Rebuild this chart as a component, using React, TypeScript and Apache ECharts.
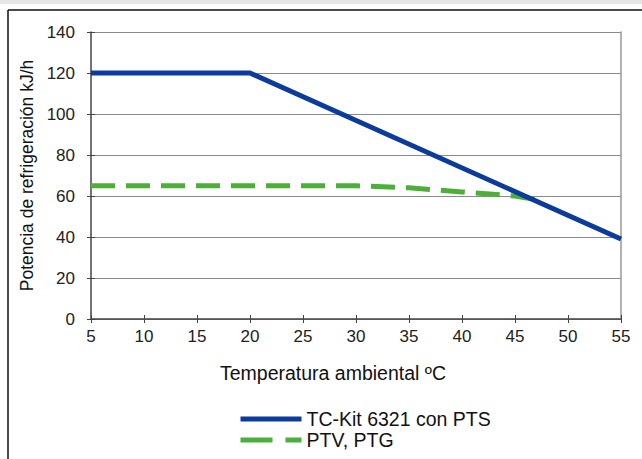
import React, { useEffect, useRef } from "react";
import * as echarts from "echarts";

const tempTicks = [5, 10, 15, 20, 25, 30, 35, 40, 45, 50, 55];
const tcKitX = [5, 20, 55];
const tcKitY = [120, 120, 39];
const ptvX = [5, 30, 35, 40, 45, 47.3];
const ptvY = [65, 65, 64, 62, 60, 58];
const seriesNames = ["TC-Kit 6321 con PTS", "PTV, PTG"];

export default function App() {
  const ref = useRef<HTMLDivElement>(null);
  useEffect(() => {
    const chart = echarts.init(ref.current!, null, { renderer: "svg" });
    const font = "Liberation Sans, Arial, sans-serif";
    const blue = "#0c3b9e";
    const green = "#4caf3a";
    const baseX = {
      type: "value",
      min: tempTicks[0],
      max: tempTicks[tempTicks.length - 1],
      interval: 5,
      position: "bottom",
    };
    const baseY = { type: "value", min: 0, max: 140, interval: 20 };
    chart.setOption({
      animation: false,
      backgroundColor: "#ffffff",
      grid: { left: 91, right: 21, top: 32, bottom: 140 },
      graphic: [
        { type: "rect", shape: { x: 0, y: 0, width: 642, height: 4 }, style: { fill: "#e6e6e6" } },
        { type: "line", shape: { x1: 8, y1: 10, x2: 642, y2: 10 }, style: { stroke: "#111", lineWidth: 1.5 } },
        { type: "line", shape: { x1: 8, y1: 10, x2: 8, y2: 459 }, style: { stroke: "#111", lineWidth: 1.5 } },
      ],
      xAxis: [
        {
          ...baseX,
          name: "Temperatura ambiental ºC",
          nameLocation: "middle",
          nameGap: 44,
          nameTextStyle: { fontFamily: font, fontSize: 19.5, color: "#111", padding: [0, 46, 0, 0] },
          axisLine: { show: true, lineStyle: { color: "#444", width: 1.5 } },
          axisTick: { show: true, length: 4, lineStyle: { color: "#444" } },
          axisLabel: { fontFamily: font, fontSize: 17, color: "#222", margin: 9 },
          splitLine: { show: false },
        },
        {
          ...baseX,
          axisLine: { show: false },
          axisTick: { show: true, inside: true, length: 4, lineStyle: { color: "#444" } },
          axisLabel: { show: false },
          splitLine: { show: false },
        },
      ],
      yAxis: [
        {
          ...baseY,
          name: "Potencia de refrigeración kJ/h",
          nameLocation: "middle",
          nameGap: 46,
          nameTextStyle: { fontFamily: font, fontSize: 17.5, color: "#111", padding: [0, 0, 0, 0] },
          axisLine: { show: true, lineStyle: { color: "#444", width: 1.5 } },
          axisTick: { show: true, length: 4, lineStyle: { color: "#444" } },
          axisLabel: { fontFamily: font, fontSize: 17, color: "#222", margin: 16 },
          splitLine: { show: true, lineStyle: { color: "#8a8a8a", width: 1 } },
        },
        {
          ...baseY,
          position: "left",
          axisLine: { show: false },
          axisTick: { show: true, inside: true, length: 4, lineStyle: { color: "#444" } },
          axisLabel: { show: false },
          splitLine: { show: false },
        },
        {
          ...baseY,
          position: "right",
          axisLine: { show: true, lineStyle: { color: "#999", width: 1.5 } },
          axisTick: { show: false },
          axisLabel: { show: false },
          splitLine: { show: false },
        },
      ],
      legend: {
        orient: "vertical",
        left: 233,
        top: 404,
        itemWidth: 61,
        itemHeight: 14,
        itemGap: 1,
        itemStyle: { opacity: 0 },
        textStyle: { fontFamily: font, fontSize: 19.5, color: "#111" },
        data: [
          { name: seriesNames[0], lineStyle: { color: blue, width: 5, type: "solid" } },
          { name: seriesNames[1], lineStyle: { color: green, width: 5, type: [32, 13] } },
        ],
      },
      series: [
        {
          name: seriesNames[0],
          type: "line",
          symbol: "none",
          data: tcKitX.map((x, i) => [x, tcKitY[i]]),
          lineStyle: { color: blue, width: 5 },
          itemStyle: { color: blue },
          z: 3,
        },
        {
          name: seriesNames[1],
          type: "line",
          symbol: "none",
          data: ptvX.map((x, i) => [x, ptvY[i]]),
          lineStyle: { color: green, width: 5, type: [24, 11] },
          itemStyle: { color: green },
          z: 2,
        },
      ],
    });
    return () => chart.dispose();
  }, []);
  return (
    <div
      ref={ref}
      style={{ position: "fixed", left: 0, top: 0, width: 642, height: 459 }}
    />
  );
}
